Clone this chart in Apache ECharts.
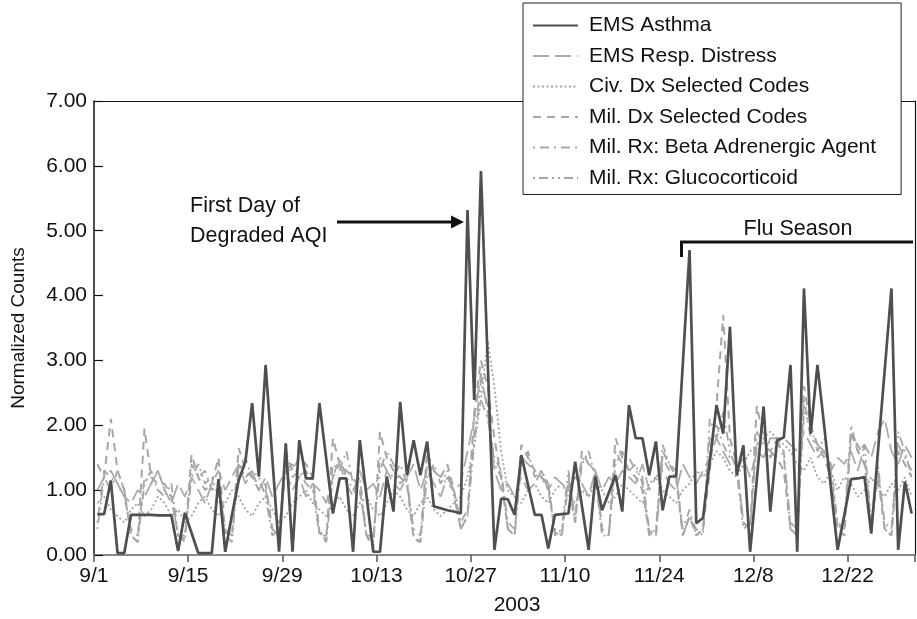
<!DOCTYPE html>
<html>
<head>
<meta charset="utf-8">
<title>Respiratory syndrome indicators, Sep–Dec 2003</title>
<script src="https://cdn.jsdelivr.net/npm/echarts@6/dist/echarts.min.js"></script>
<style>
  html, body { margin: 0; padding: 0; background: #fff; }
  #chart { width: 917px; height: 619px; }
</style>
</head>
<body>
<div id="chart"></div>
<script>
// Daily categories, 9/1/2003 through 12/31/2003
const dayLabels = [];
for (let i = 0; i < 122; i++) {
  const d = new Date(Date.UTC(2003, 8, 1 + i));
  dayLabels.push((d.getUTCMonth() + 1) + '/' + d.getUTCDate());
}
const tickLabels = ['9/1', '9/15', '9/29', '10/13', '10/27', '11/10', '11/24', '12/8', '12/22'];
const yearLabel = '2003';

const seriesNames = [
  'EMS Asthma',
  'EMS Resp. Distress',
  'Civ. Dx Selected Codes',
  'Mil. Dx Selected Codes',
  'Mil. Rx: Beta Adrenergic Agent',
  'Mil. Rx: Glucocorticoid'
];

// Normalized daily counts
const emsAsthma = [
  0.63, 0.63, 1.15, 0.03, 0.03, 0.62, 0.62, 0.62, 0.62, 0.61, 0.61, 0.61, 0.06, 0.65,
  0.34, 0.03, 0.03, 0.03, 1.17, 0.05, 0.62, 1.15, 1.44, 2.34, 1.21, 2.93, 1.49, 0.05,
  1.72, 0.05, 1.77, 1.18, 1.18, 2.34, 1.49, 0.64, 1.18, 1.18, 0.05, 1.77, 0.91, 0.05,
  0.05, 1.21, 0.67, 2.36, 1.23, 1.77, 1.23, 1.75, 0.75, 0.72, 0.69, 0.67, 0.64, 5.32,
  2.39, 5.92, 3.00, 0.08, 0.87, 0.86, 0.62, 1.54, 1.08, 0.62, 0.62, 0.10, 0.62, 0.63,
  0.64, 1.44, 0.76, 0.08, 1.21, 0.69, 0.96, 1.23, 0.67, 2.31, 1.80, 1.80, 1.23, 1.75,
  0.69, 1.21, 1.21, 2.95, 4.70, 0.49, 0.57, 1.44, 2.31, 1.87, 3.52, 1.23, 1.69, 0.05,
  1.17, 2.29, 0.67, 1.77, 1.81, 2.93, 0.05, 4.11, 1.87, 2.93, 2.00, 1.04, 0.08, 0.62,
  1.17, 1.18, 1.20, 0.33, 1.60, 2.85, 4.11, 0.08, 1.13, 0.64
];
const emsRespDistress = [
  1.0, 1.2, 1.3, 1.1, 0.9, 0.8, 1.0, 0.9, 1.1, 1.3, 1.0, 0.8, 1.1, 0.9,
  1.2, 1.0, 0.8, 1.1, 1.3, 1.0, 1.2, 1.4, 1.1, 1.3, 1.0, 1.2, 0.9, 1.1,
  1.3, 1.0, 1.2, 0.9, 1.1, 1.0, 0.8, 1.2, 1.4, 1.1, 0.9, 1.3, 1.0, 1.1,
  0.9, 1.3, 1.1, 1.0, 1.2, 1.4, 1.0, 1.3, 1.1, 0.9, 1.2, 1.0, 1.1, 1.6,
  2.1, 2.8, 2.2, 1.3, 1.0, 1.1, 0.9, 1.2, 1.0, 1.1, 1.3, 1.0, 1.2, 1.1,
  1.0, 1.2, 1.1, 0.9, 1.3, 1.0, 1.2, 1.1, 1.3, 1.2, 1.1, 1.4, 1.0, 1.2,
  1.3, 1.1, 1.0, 1.4, 1.2, 1.1, 1.3, 1.5, 1.8, 1.6, 1.4, 1.3, 1.5, 1.2,
  1.6, 1.5, 1.8, 1.8, 1.8, 1.7, 1.6, 1.9, 1.7, 1.5, 1.6, 1.3, 1.5, 1.4,
  1.6, 1.3, 1.7, 1.5, 1.9, 2.1, 1.6, 1.4, 1.7, 1.5
];
const civDxCodes = [
  0.8, 0.9, 0.7, 0.6, 0.5, 0.7, 0.8, 0.6, 0.7, 0.9, 0.8, 0.6, 0.7, 0.5,
  0.6, 0.8, 0.9, 0.7, 0.6, 0.8, 1.0, 0.9, 0.7, 0.6, 0.8, 0.9, 0.7, 0.5,
  0.6, 0.8, 0.9, 1.0, 0.8, 0.7, 0.6, 0.8, 0.9, 0.7, 0.6, 0.8, 0.9, 0.7,
  0.6, 0.8, 1.0, 0.9, 0.7, 0.6, 0.8, 0.9, 0.7, 0.6, 0.7, 0.8, 0.9, 1.2,
  1.7, 2.4, 3.3, 2.6, 1.6, 1.0, 0.9, 0.8, 1.0, 1.1, 0.9, 0.8, 1.0, 1.1,
  0.9, 0.8, 1.0, 0.9, 1.1, 1.0, 0.8, 0.9, 1.1, 1.0, 0.9, 0.8, 1.1, 1.2,
  1.0, 0.9, 0.8, 1.0, 1.1, 1.3, 1.2, 1.4, 1.6, 1.5, 1.3, 1.2, 1.4, 1.6,
  1.7, 1.8, 1.9, 1.8, 1.7, 1.6, 1.4, 1.3, 1.5, 1.2, 1.1, 1.3, 1.0, 1.2,
  1.1, 0.9, 1.0, 1.2, 1.0, 0.9, 1.1, 1.0, 1.2, 0.9
];
const milDxCodes = [
  1.4, 1.2, 2.1, 1.3, 1.0, 0.3, 0.2, 1.95, 1.2, 1.1, 1.1, 0.9, 0.3, 0.25,
  1.55, 1.2, 1.0, 1.1, 1.5, 0.35, 0.3, 1.65, 1.3, 1.2, 1.0, 1.1, 0.4, 0.3,
  1.6, 1.3, 1.5, 1.4, 1.2, 0.35, 0.2, 1.8, 1.4, 1.3, 1.2, 1.0, 0.3, 0.1,
  1.9, 1.5, 1.3, 1.2, 1.1, 0.25, 0.2, 1.6, 1.3, 1.2, 1.4, 1.0, 0.4, 0.6,
  2.2, 3.0, 2.6, 1.8, 1.2, 0.4, 0.3, 1.7, 1.5, 1.3, 1.2, 1.1, 0.35, 0.3,
  1.1, 0.5, 1.6, 1.4, 1.3, 0.4, 0.3, 1.8, 1.5, 1.3, 1.2, 1.0, 0.35, 0.3,
  1.6, 1.4, 1.2, 0.3, 0.6, 0.3, 0.4, 1.3, 2.3, 3.7, 1.8, 1.4, 0.5, 0.4,
  2.3, 1.8, 1.6, 1.5, 1.3, 0.4, 0.3, 2.6, 2.0, 1.7, 1.5, 1.2, 0.4, 0.3,
  1.9, 1.6, 1.4, 0.5, 1.2, 0.4, 0.3, 1.6, 1.4, 1.2
];
const milRxBeta = [
  0.5, 1.3, 1.2, 1.1, 0.9, 0.4, 0.3, 1.2, 1.1, 1.3, 1.0, 0.9, 0.3, 0.2,
  1.4, 1.2, 1.3, 1.0, 1.1, 0.4, 0.3, 1.3, 1.5, 1.2, 1.1, 1.0, 0.4, 0.3,
  1.5, 1.2, 1.3, 1.1, 1.0, 0.3, 0.3, 1.4, 1.3, 1.6, 1.1, 1.0, 0.3, 0.2,
  1.5, 1.3, 1.2, 1.4, 1.1, 0.4, 0.3, 1.4, 1.3, 1.2, 1.1, 1.0, 0.5, 0.7,
  1.9, 2.4, 2.1, 1.5, 1.3, 0.5, 0.4, 1.5, 1.4, 1.3, 1.2, 1.0, 0.4, 0.3,
  1.2, 0.6, 1.5, 1.4, 1.3, 0.4, 0.3, 1.6, 1.4, 1.5, 1.3, 1.2, 0.4, 0.3,
  1.5, 1.3, 1.2, 0.4, 0.7, 0.3, 0.4, 1.8, 2.0, 1.7, 1.5, 1.4, 0.5, 0.4,
  1.9, 1.7, 1.6, 1.8, 1.5, 0.5, 0.4, 2.4, 1.8, 1.7, 1.6, 1.4, 0.5, 0.4,
  1.8, 1.7, 1.5, 0.4, 1.3, 0.5, 0.4, 1.7, 1.5, 1.3
];
const milRxGluco = [
  0.4, 1.2, 1.0, 1.3, 1.0, 0.3, 0.2, 1.1, 1.3, 1.0, 0.9, 1.1, 0.3, 0.3,
  1.2, 1.4, 1.1, 1.2, 0.9, 0.3, 0.2, 1.4, 1.2, 1.3, 1.2, 0.9, 0.3, 0.4,
  1.3, 1.4, 1.2, 1.3, 1.1, 0.4, 0.2, 1.2, 1.5, 1.2, 1.0, 1.2, 0.3, 0.3,
  1.3, 1.6, 1.4, 1.1, 1.2, 0.3, 0.2, 1.2, 1.4, 1.1, 1.3, 0.9, 0.4, 0.6,
  1.7, 2.7, 2.3, 1.4, 1.2, 0.4, 0.3, 1.4, 1.6, 1.2, 1.3, 1.1, 0.3, 0.4,
  1.3, 0.5, 1.4, 1.6, 1.2, 0.3, 0.3, 1.4, 1.6, 1.3, 1.4, 1.1, 0.3, 0.4,
  1.7, 1.4, 1.3, 0.3, 0.6, 0.4, 0.3, 2.1, 1.8, 2.2, 1.6, 1.3, 0.4, 0.5,
  1.7, 1.9, 1.5, 1.7, 1.6, 0.4, 0.3, 2.2, 2.0, 1.6, 1.8, 1.3, 0.4, 0.5,
  2.0, 1.6, 1.7, 0.5, 1.4, 0.4, 0.3, 1.9, 1.6, 1.2
];

const FONT = '"Liberation Sans", Arial, Helvetica, sans-serif';
const INK = '#111';

const isTickDay = (idx, value) => tickLabels.indexOf(value) >= 0;

function lineSeries(name, data, color, width, dash, z) {
  return {
    name: name,
    type: 'line',
    data: data,
    symbol: 'none',
    smooth: false,
    z: z,
    silent: true,
    animation: false,
    lineStyle: { color: color, width: width, type: dash },
    itemStyle: { color: color }
  };
}

const chart = echarts.init(document.getElementById('chart'));

chart.setOption({
  backgroundColor: '#fff',
  animation: false,
  grid: { left: 94, right: 2, top: 101, bottom: 64, containLabel: false },
  legend: {
    orient: 'vertical',
    left: 523,
    top: 3,
    padding: [12, 25, 6, 9],
    itemWidth: 45,
    itemHeight: 14,
    itemGap: 9.5,
    backgroundColor: '#fff',
    borderColor: '#222',
    borderWidth: 1,
    borderRadius: 0,
    selectedMode: false,
    data: seriesNames,
    // line samples only, no marker dot
    itemStyle: { color: 'rgba(0,0,0,0)', borderColor: 'rgba(0,0,0,0)', borderWidth: 0 },
    textStyle: {
      fontFamily: FONT,
      fontSize: 21,
      color: INK,
      lineHeight: 20,
      padding: [0, 0, 0, 6]
    }
  },
  xAxis: [
    {
      type: 'category',
      data: dayLabels,
      boundaryGap: true,
      axisLine: { show: true, onZero: false, lineStyle: { color: '#8a8a8a', width: 2 } },
      axisTick: { show: true, inside: false, length: 7, interval: isTickDay,
        lineStyle: { color: '#555', width: 1.5 } },
      axisLabel: {
        interval: isTickDay,
        margin: 11,
        fontFamily: FONT,
        fontSize: 21,
        color: INK,
        padding: [0, 7, 0, 0]
      },
      splitLine: { show: false }
    },
    {
      type: 'category',
      data: dayLabels,
      position: 'top',
      axisLine: { show: true, onZero: false, lineStyle: { color: '#111', width: 1.2 } },
      axisTick: { show: false },
      axisLabel: { show: false },
      splitLine: { show: false }
    }
  ],
  yAxis: [
    {
      type: 'value',
      min: 0,
      max: 7,
      interval: 1,
      name: 'Normalized Counts',
      nameLocation: 'middle',
      nameGap: 66,
      nameTextStyle: { fontFamily: FONT, fontSize: 19, color: INK },
      axisLine: { show: true, onZero: false, lineStyle: { color: '#111', width: 1.5 } },
      axisTick: { show: true, inside: true, length: 9, lineStyle: { color: '#111', width: 1.2 } },
      axisLabel: {
        margin: 7,
        fontFamily: FONT,
        fontSize: 21,
        color: INK,
        formatter: v => v.toFixed(2)
      },
      splitLine: { show: false }
    },
    {
      type: 'value',
      min: 0,
      max: 7,
      position: 'right',
      axisLine: { show: true, onZero: false, lineStyle: { color: '#111', width: 1.2 } },
      axisTick: { show: false },
      axisLabel: { show: false },
      splitLine: { show: false }
    }
  ],
  series: [
    lineSeries(seriesNames[0], emsAsthma, '#4f4f4f', 2.7, 'solid', 5),
    lineSeries(seriesNames[1], emsRespDistress, '#ababab', 1.8, [16, 6], 3),
    lineSeries(seriesNames[2], civDxCodes, '#a3a3a3', 1.8, [2, 2.5], 3),
    lineSeries(seriesNames[3], milDxCodes, '#a5a5a5', 2, [8, 6], 3),
    lineSeries(seriesNames[4], milRxBeta, '#a8a8a8', 1.8, [2, 5, 9, 5], 3),
    lineSeries(seriesNames[5], milRxGluco, '#a5a5a5', 1.8, [2, 4, 9, 4, 2, 4], 3)
  ],
  graphic: [
    {
      type: 'text', x: 190, y: 191, z: 10,
      style: { text: 'First Day of\nDegraded AQI', fontFamily: FONT, fontSize: 21.5,
        lineHeight: 30, fill: INK, align: 'left', verticalAlign: 'top' }
    },
    {
      type: 'line', z: 10,
      shape: { x1: 337, y1: 222, x2: 454, y2: 222 },
      style: { stroke: INK, lineWidth: 3 }
    },
    {
      type: 'polygon', z: 10,
      shape: { points: [[451, 215.5], [464, 222], [451, 228.5]] },
      style: { fill: INK }
    },
    {
      type: 'text', x: 798, y: 229, z: 10,
      style: { text: 'Flu Season', fontFamily: FONT, fontSize: 21.5, fill: INK,
        align: 'center', verticalAlign: 'middle' }
    },
    {
      type: 'polyline', z: 10,
      shape: { points: [[681.5, 257], [681.5, 242], [913, 242]] },
      style: { stroke: INK, lineWidth: 3, fill: null }
    },
    {
      type: 'text', x: 517, y: 605, z: 10,
      style: { text: yearLabel, fontFamily: FONT, fontSize: 21, fill: INK,
        align: 'center', verticalAlign: 'middle' }
    }
  ]
});
</script>
</body>
</html>
